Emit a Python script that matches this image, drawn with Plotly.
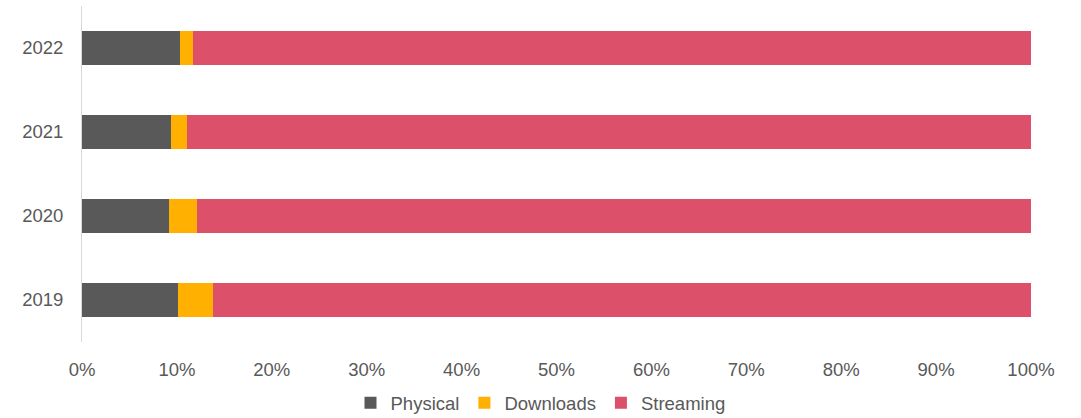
import plotly.graph_objects as go

years = ["2019", "2020", "2021", "2022"]
physical = [10.1, 9.2, 9.4, 10.3]
downloads = [3.7, 2.9, 1.7, 1.4]
streaming = [100 - p - d for p, d in zip(physical, downloads)]

series = [
    ("Physical", physical, "#595959"),
    ("Downloads", downloads, "#FFB000"),
    ("Streaming", streaming, "#DC5069"),
]

fig = go.Figure()
for name, vals, color in series:
    fig.add_trace(go.Bar(
        y=years, x=vals, name=name, orientation="h",
        marker=dict(color=color, line=dict(width=0)),
    ))

font = dict(family="Liberation Sans, Arial, sans-serif", size=18.5, color="#595959")

fig.update_layout(
    barmode="stack",
    bargap=0.6,
    width=1081, height=418,
    margin=dict(l=82, r=50, t=6, b=76, autoexpand=False),
    paper_bgcolor="white", plot_bgcolor="white",
    font=font,
    showlegend=True,
    legend=dict(orientation="h", xref="container", x=0.5, xanchor="center",
                yref="paper", y=-0.126, yanchor="top",
                font=dict(size=18.5, color="#595959"), itemwidth=30,
                traceorder="normal", tracegroupgap=0),
    xaxis=dict(range=[0, 100], tickvals=list(range(0, 101, 10)),
               ticktext=[f"{v}%" for v in range(0, 101, 10)],
               showgrid=False, zeroline=False, showline=False,
               ticks="", ticklabelstandoff=14, fixedrange=True),
    yaxis=dict(showgrid=False, zeroline=False, showline=True, linecolor="#D9D9D9",
               linewidth=1, ticks="", ticklabelstandoff=14, fixedrange=True),
)

fig.write_html("out.html")
